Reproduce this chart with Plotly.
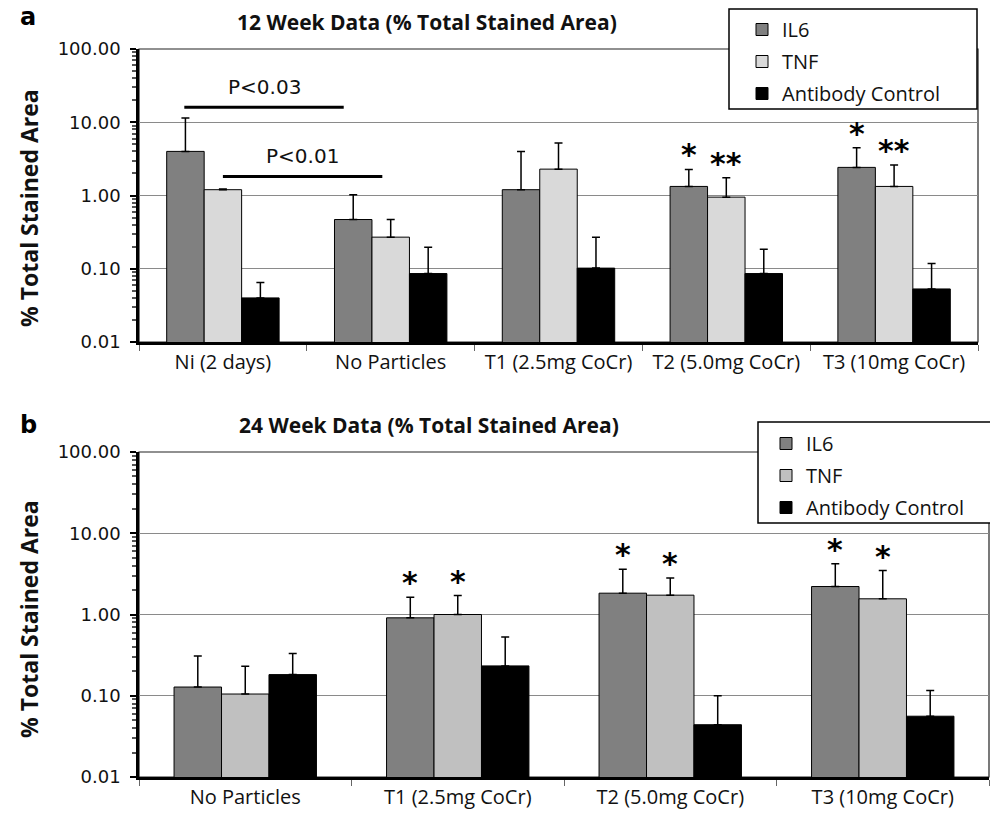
import math
import plotly.graph_objects as go

# ---------------- data ----------------
series_names = ["IL6", "TNF", "Antibody Control"]

cats_12 = ["Ni (2 days)", "No Particles", "T1 (2.5mg CoCr)", "T2 (5.0mg CoCr)", "T3 (10mg CoCr)"]
w12_il6 = [4.0, 0.47, 1.2, 1.33, 2.42]
w12_il6_err = [7.4, 0.55, 2.8, 0.94, 2.08]
w12_tnf = [1.2, 0.27, 2.29, 0.95, 1.33]
w12_tnf_err = [0.03, 0.20, 2.9, 0.80, 1.27]
w12_ab = [0.040, 0.086, 0.102, 0.086, 0.053]
w12_ab_err = [0.025, 0.110, 0.168, 0.098, 0.065]
w12_sig_il6 = ["", "", "", "*", "*"]
w12_sig_tnf = ["", "", "", "**", "**"]

cats_24 = ["No Particles", "T1 (2.5mg CoCr)", "T2 (5.0mg CoCr)", "T3 (10mg CoCr)"]
w24_il6 = [0.128, 0.91, 1.83, 2.21]
w24_il6_err = [0.18, 0.72, 1.77, 1.99]
w24_tnf = [0.105, 1.0, 1.73, 1.56]
w24_tnf_err = [0.125, 0.71, 1.09, 1.91]
w24_ab = [0.182, 0.233, 0.044, 0.056]
w24_ab_err = [0.148, 0.297, 0.056, 0.060]
w24_sig_il6 = ["", "*", "*", "*"]
w24_sig_tnf = ["", "*", "*", "*"]

# p-value brackets (panel a): label, start category pos, end category pos, level
p_labels = ["P<0.03", "P<0.01"]
p_x0 = [-0.23, 0.0]
p_x1 = [0.72, 0.95]
p_y = [16.0, 1.82]

y_tickvals = [0.01, 0.1, 1, 10, 100]
y_ticktext = ["0.01", "0.10", "1.00", "10.00", "100.00"]

# ---------------- style ----------------
W, H = 990, 817
BARGAP = 0.33
colors_12 = ["#808080", "#d9d9d9", "#000000"]
colors_24 = ["#808080", "#c0c0c0", "#000000"]
CAL = "Open Sans, Lato, sans-serif"
NUM = "DejaVu Sans, sans-serif"

def px(x):
    return x / W

def py(y):
    return 1 - y / H

fig = go.Figure()

def add_panel(cats, vals, errs, colors, xa, ya, legend, group_suffix):
    for name, v, e, c in zip(series_names, vals, errs, colors):
        fig.add_trace(go.Bar(
            x=cats, y=v, name=name,
            marker=dict(color=c, line=dict(color="#000000", width=1)),
            error_y=dict(type="data", array=e, arrayminus=[0] * len(e), symmetric=False,
                         color="#000000", thickness=1.5, width=4),
            xaxis=xa, yaxis=ya, legend=legend, legendgroup=name + group_suffix,
        ))

add_panel(cats_12, [w12_il6, w12_tnf, w12_ab], [w12_il6_err, w12_tnf_err, w12_ab_err],
          colors_12, "x", "y", "legend", "_12")
add_panel(cats_24, [w24_il6, w24_tnf, w24_ab], [w24_il6_err, w24_tnf_err, w24_ab_err],
          colors_24, "x2", "y2", "legend2", "_24")

minor_vals = [m * 10 ** d for d in range(-2, 2) for m in range(2, 10)]

def yaxis_cfg(domain, anchor):
    return dict(
        domain=domain, anchor=anchor, type="log", range=[-2, 2],
        tickvals=y_tickvals, ticktext=y_ticktext,
        tickfont=dict(family=NUM, size=18, color="#111111"),
        ticks="outside", ticklen=6, tickwidth=1.5, tickcolor="#000000",
        ticklabelstandoff=6,
        showgrid=True, gridcolor="#8a8a8a", gridwidth=1,
        showline=True, linecolor="#000000", linewidth=2.5,
        minor=dict(tickvals=minor_vals, ticks="outside", ticklen=4, tickcolor="#555555",
                   showgrid=False),
        zeroline=False, fixedrange=True, automargin=False,
    )

def xaxis_cfg(domain, anchor):
    return dict(
        domain=domain, anchor=anchor, type="category",
        tickfont=dict(family=CAL, size=20, color="#111111"),
        ticks="outside", tickson="boundaries", ticklen=6, tickcolor="#666666",
        showline=True, linecolor="#000000", linewidth=2.5,
        showgrid=False, zeroline=False, fixedrange=True, automargin=False,
    )

top_x = [px(139), px(978)]
top_y = [py(342), py(49)]
bot_x = [px(139), px(989)]
bot_y = [py(777), py(452)]

annotations = []
shapes = []

# frames
for xd, yd in [(top_x, top_y), (bot_x, bot_y)]:
    shapes.append(dict(type="rect", xref="paper", yref="paper", x0=xd[0], x1=xd[1], y0=yd[0], y1=yd[1],
                       line=dict(color="#222222", width=1.2), layer="below"))

def note(text, x, y, size, family=CAL, angle=0, color="#111111"):
    annotations.append(dict(text=text, x=px(x), y=py(y), xref="paper", yref="paper",
                            xanchor="center", yanchor="middle", textangle=angle,
                            showarrow=False, font=dict(family=family, size=size, color=color)))

# titles / panel letters
note("<b>12 Week Data (% Total Stained Area)</b>", 427, 22, 21)
note("<b>24 Week Data (% Total Stained Area)</b>", 429, 425, 21)
note("<b>a</b>", 28, 17, 24, NUM, 0, "#000000")
note("<b>b</b>", 28, 425, 24, NUM, 0, "#000000")
note("<b>% Total Stained Area</b>", 29, 208, 23, CAL, -90)
note("<b>% Total Stained Area</b>", 29, 619, 23, CAL, -90)

# significance stars
off = (1 - BARGAP) / 3
def add_stars(vals, errs, sig, shift, xref, yref):
    for i, (v, e, s) in enumerate(zip(vals, errs, sig)):
        if s:
            annotations.append(dict(text="<b>" + s + "</b>", x=i + shift, y=math.log10(v + e),
                                    xref=xref, yref=yref, xanchor="center", yanchor="bottom",
                                    showarrow=False, yshift=-5,
                                    font=dict(family=NUM, size=30, color="#000000")))

add_stars(w12_il6, w12_il6_err, w12_sig_il6, -off, "x", "y")
add_stars(w12_tnf, w12_tnf_err, w12_sig_tnf, 0, "x", "y")
add_stars(w24_il6, w24_il6_err, w24_sig_il6, -off, "x2", "y2")
add_stars(w24_tnf, w24_tnf_err, w24_sig_tnf, 0, "x2", "y2")

# p-value brackets
for lab, x0, x1, yv in zip(p_labels, p_x0, p_x1, p_y):
    shapes.append(dict(type="line", xref="x", yref="y", x0=x0, x1=x1, y0=yv, y1=yv,
                       line=dict(color="#000000", width=3)))
    annotations.append(dict(text=lab, x=(x0 + x1) / 2, y=math.log10(yv), xref="x", yref="y",
                            xanchor="center", yanchor="bottom", yshift=6, showarrow=False,
                            font=dict(family=NUM, size=20, color="#111111")))

# legend boxes
shapes.append(dict(type="rect", xref="paper", yref="paper", x0=px(729), x1=px(977), y0=py(109), y1=py(9),
                   line=dict(color="#000000", width=1.5), fillcolor="#ffffff", layer="above"))
shapes.append(dict(type="rect", xref="paper", yref="paper", x0=px(758), x1=px(995), y0=py(523), y1=py(422),
                   line=dict(color="#000000", width=1.5), fillcolor="#ffffff", layer="above"))

legend_common = dict(bgcolor="rgba(0,0,0,0)", borderwidth=0, tracegroupgap=3,
                     font=dict(family=CAL, size=20, color="#111111"),
                     xanchor="left", yanchor="top", itemclick=False, itemdoubleclick=False)

fig.update_layout(
    width=W, height=H,
    margin=dict(l=0, r=0, t=0, b=0, autoexpand=False),
    paper_bgcolor="#ffffff", plot_bgcolor="#ffffff",
    barmode="group", bargap=BARGAP, bargroupgap=0,
    showlegend=True,
    xaxis=xaxis_cfg(top_x, "y"),
    yaxis=yaxis_cfg(top_y, "x"),
    xaxis2=xaxis_cfg(bot_x, "y2"),
    yaxis2=yaxis_cfg(bot_y, "x2"),
    legend=dict(x=px(742), y=py(10), **legend_common),
    legend2=dict(x=px(766), y=py(424), **legend_common),
    annotations=annotations,
    shapes=shapes,
)

fig.write_html("out.html", config={"displayModeBar": False},
               post_script="document.body.style.margin='0';document.body.style.overflow='hidden';")
